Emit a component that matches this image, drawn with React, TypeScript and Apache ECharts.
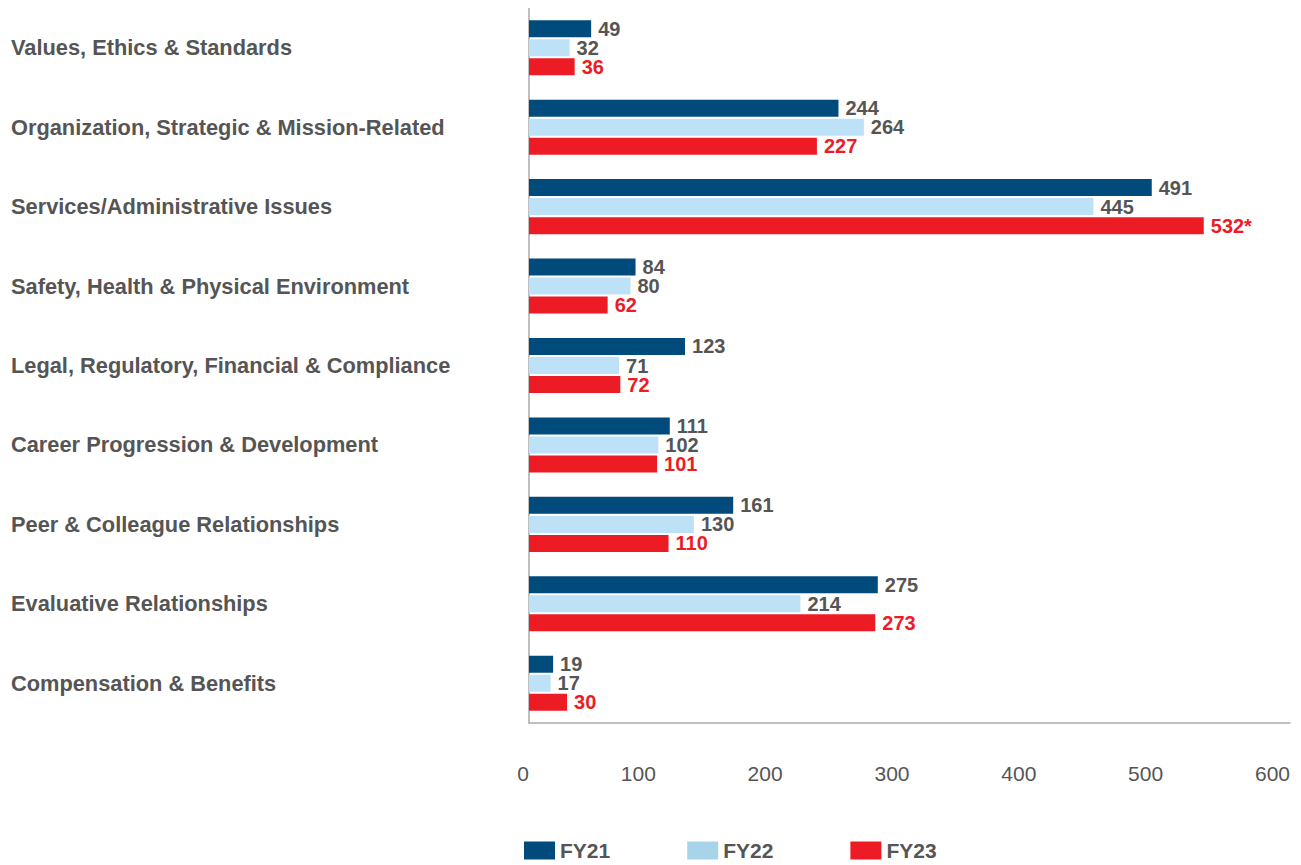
import React, { useEffect, useRef } from "react";
import * as echarts from "echarts";

const categories = [
  "Values, Ethics & Standards",
  "Organization, Strategic & Mission-Related",
  "Services/Administrative Issues",
  "Safety, Health & Physical Environment",
  "Legal, Regulatory, Financial & Compliance",
  "Career Progression & Development",
  "Peer & Colleague Relationships",
  "Evaluative Relationships",
  "Compensation & Benefits",
];
const fy21 = [49, 244, 491, 84, 123, 111, 161, 275, 19];
const fy22 = [32, 264, 445, 80, 71, 102, 130, 214, 17];
const fy23 = [36, 227, 532, 62, 72, 101, 110, 273, 30];
const fy23Labels = ["36", "227", "532*", "62", "72", "101", "110", "273", "30"];
const xTicks = [0, 100, 200, 300, 400, 500, 600];

const FONT = "'Liberation Sans', Arial, Helvetica, sans-serif";
const GRAY = "#555555";

export default function App() {
  const ref = useRef<HTMLDivElement>(null);
  useEffect(() => {
    if (!ref.current) return;
    const chart = echarts.init(ref.current, undefined, { renderer: "svg" });
    const labelBase = {
      show: true,
      position: "right",
      distance: 7,
      fontFamily: FONT,
      fontWeight: "bold",
      fontSize: 20,
      lineHeight: 17,
      color: GRAY,
    };
    chart.setOption({
      animation: false,
      textStyle: { fontFamily: FONT },
      grid: { left: 520, right: 3, top: 0, bottom: 142, containLabel: false },
      legend: {
        bottom: -1,
        left: 511,
        itemWidth: 31,
        itemHeight: 18,
        itemGap: 77,
        icon: "rect",
        textStyle: { fontFamily: FONT, fontWeight: "bold", fontSize: 21, color: GRAY },
        data: [
          { name: "FY21", itemStyle: { color: "#004a7c" } },
          { name: "FY22", itemStyle: { color: "#a8d4ea" } },
          { name: "FY23", itemStyle: { color: "#ed1c24" } },
        ],
      },
      xAxis: {
        type: "value",
        min: xTicks[0],
        max: xTicks[xTicks.length - 1],
        interval: 100,
        axisLine: { show: true, lineStyle: { color: "#aaaaaa", width: 1.5 } },
        axisTick: { show: false },
        splitLine: { show: false },
        axisLabel: {
          align: "right",
          margin: 40,
          fontSize: 21,
          color: GRAY,
          fontFamily: FONT,
        },
      },
      yAxis: {
        type: "category",
        data: categories,
        inverse: true,
        axisLine: { show: true, lineStyle: { color: "#aaaaaa", width: 1.5 } },
        axisTick: { show: false },
        axisLabel: {
          align: "left",
          margin: 518,
          fontSize: 21.8,
          fontWeight: "bold",
          color: GRAY,
          fontFamily: FONT,
          padding: [4, 0, 0, 0],
        },
      },
      series: [
        {
          name: "FY21",
          type: "bar",
          data: fy21,
          barWidth: 17,
          barGap: "12%",
          itemStyle: { color: "#004a7c" },
          label: { ...labelBase },
        },
        {
          name: "FY22",
          type: "bar",
          data: fy22,
          barWidth: 17,
          barGap: "12%",
          itemStyle: { color: "#bde1f6" },
          label: { ...labelBase },
        },
        {
          name: "FY23",
          type: "bar",
          data: fy23,
          barWidth: 17,
          barGap: "12%",
          itemStyle: { color: "#ed1c24" },
          label: {
            ...labelBase,
            color: "#ed1c24",
            formatter: (p: any) => fy23Labels[p.dataIndex],
          },
        },
      ],
    });
    return () => chart.dispose();
  }, []);
  return <div ref={ref} style={{ width: 1285, height: 857 }} />;
}
